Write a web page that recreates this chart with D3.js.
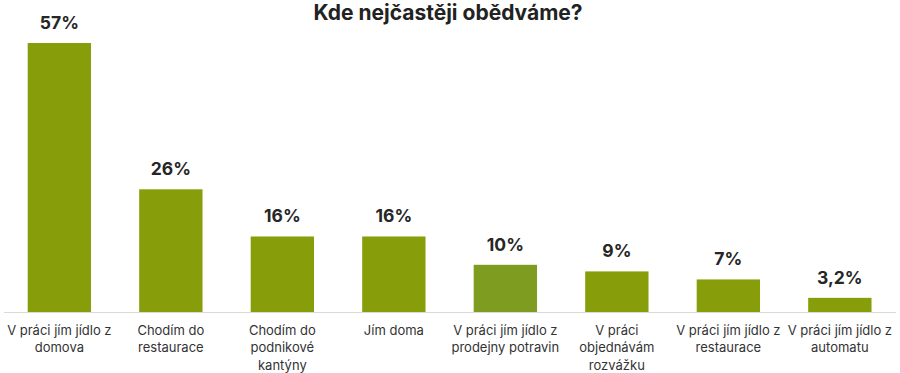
<!DOCTYPE html>
<html>
<head>
<meta charset="utf-8">
<script src="https://cdn.jsdelivr.net/npm/d3@7"></script>
<style>
  html, body { margin: 0; padding: 0; background: #fff; }
  svg { display: block; }
</style>
</head>
<body>
<svg id="chart" width="900" height="373"></svg>
<script>
const title = "Kde nejčastěji obědváme?";
const categories = [
  "V práci jím jídlo z domova",
  "Chodím do restaurace",
  "Chodím do podnikové kantýny",
  "Jím doma",
  "V práci jím jídlo z prodejny potravin",
  "V práci objednávám rozvážku",
  "V práci jím jídlo z restaurace",
  "V práci jím jídlo z automatu"
];
const values = [57, 26, 16, 16, 10, 8.6, 6.9, 3.0];
const valueLabels = ["57%", "26%", "16%", "16%", "10%", "9%", "7%", "3,2%"];
const barColors = ["#889d0a", "#889d0a", "#889d0a", "#889d0a", "#7e9c1f", "#889d0a", "#889d0a", "#889d0a"];

const svg = d3.select("#chart");
const baseline = 312, topY = 43;
const fontFam = "Inter, 'Open Sans', 'Noto Sans', sans-serif";

const x = d3.scaleBand()
  .domain(categories)
  .range([3.6, 895.6])
  .paddingInner(0.432)
  .paddingOuter(0.216);

const y = d3.scaleLinear()
  .domain([0, 57])
  .range([baseline, topY]);

// title
svg.append("text")
  .attr("x", 448)
  .attr("y", 20)
  .attr("text-anchor", "middle")
  .attr("font-family", fontFam)
  .attr("font-weight", 700)
  .attr("font-size", 21)
  .attr("fill", "#222")
  .text(title);

// bars
svg.append("g").selectAll("rect")
  .data(values)
  .join("rect")
  .attr("x", (d, i) => x(categories[i]))
  .attr("width", x.bandwidth())
  .attr("y", d => y(d))
  .attr("height", d => baseline - y(d))
  .attr("fill", (d, i) => barColors[i]);

// value labels
svg.append("g").selectAll("text")
  .data(values)
  .join("text")
  .attr("x", (d, i) => x(categories[i]) + x.bandwidth() / 2)
  .attr("y", d => y(d) - 14)
  .attr("text-anchor", "middle")
  .attr("font-family", fontFam)
  .attr("font-weight", 700)
  .attr("font-size", 17.5)
  .attr("fill", "#262626")
  .text((d, i) => valueLabels[i]);

// axis
const axis = d3.axisBottom(x).tickSize(0).tickPadding(0).tickFormat("");
const gAxis = svg.append("g")
  .attr("transform", `translate(0,${baseline})`)
  .call(axis);
gAxis.select(".domain").attr("stroke", "#d9d9d9").attr("stroke-width", 1.2);

// category labels with wrapping
function wrapLines(text, maxW, measure) {
  const words = text.split(" ");
  const lines = [];
  let cur = "";
  words.forEach(w => {
    const t = cur ? cur + " " + w : w;
    if (cur && measure(t) > maxW) { lines.push(cur); cur = w; }
    else cur = t;
  });
  if (cur) lines.push(cur);
  return lines;
}

const labelSize = 13;
const measurer = svg.append("text")
  .attr("font-family", fontFam)
  .attr("font-size", labelSize)
  .attr("visibility", "hidden");
const measure = s => { measurer.text(s); return measurer.node().getComputedTextLength(); };

const gLabels = svg.append("g");
categories.forEach((c, i) => {
  const lines = wrapLines(c, 112, measure);
  const cx = x(c) + x.bandwidth() / 2;
  const t = gLabels.append("text")
    .attr("x", cx)
    .attr("y", 334.5)
    .attr("text-anchor", "middle")
    .attr("font-family", fontFam)
    .attr("font-size", labelSize)
    .attr("fill", "#333");
  lines.forEach((l, j) => {
    t.append("tspan")
      .attr("x", cx)
      .attr("dy", j === 0 ? 0 : 17.5)
      .text(l);
  });
});
measurer.remove();
</script>
</body>
</html>
